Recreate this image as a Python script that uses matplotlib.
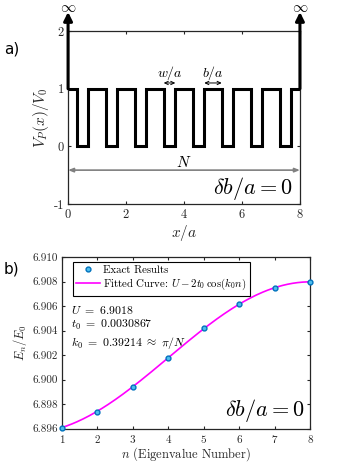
import numpy as np
import matplotlib
matplotlib.use("Agg")
import matplotlib.pyplot as plt

plt.rcParams["font.family"] = "serif"
plt.rcParams["font.serif"] = ["cmr10"]
plt.rcParams["mathtext.fontset"] = "cm"
plt.rcParams["axes.formatter.use_mathtext"] = True
plt.rcParams["axes.unicode_minus"] = False

# panel a: barrier/well edges of the potential V_P(x)/V_0
n_cells = 8
well_start = [0.3, 1.3, 2.3, 3.3, 4.3, 5.3, 6.3, 7.3]
well_end = [0.7, 1.7, 2.7, 3.7, 4.7, 5.7, 6.7, 7.7]
barrier_level = 1.0
well_level = 0.0

# panel b: eigenvalues and fit parameters
n_vals = [1, 2, 3, 4, 5, 6, 7, 8]
energies = [6.8961, 6.8974, 6.8994, 6.9018, 6.9042, 6.9062, 6.9075, 6.9080]
U = 6.9018
t0 = 0.0030867
k0 = 0.39214

fig = plt.figure(figsize=(3.64, 4.63), dpi=100)
gray = "0.15"

# ---------- panel a ----------
ax1 = fig.add_axes([0.187, 0.559, 0.637, 0.374])
xs = [0.0]
ys = [barrier_level]
for s, e in zip(well_start, well_end):
    xs += [s, s, e, e]
    ys += [barrier_level, well_level, well_level, barrier_level]
xs.append(n_cells)
ys.append(barrier_level)
ax1.plot(xs, ys, color="k", lw=2.2, solid_joinstyle="miter")

for xw in (0, n_cells):
    ax1.annotate("", xy=(xw, 2.33), xytext=(xw, barrier_level),
                 arrowprops=dict(arrowstyle="-|>,head_width=0.25,head_length=0.5",
                                 color="k", lw=2.2, shrinkA=0, shrinkB=0),
                 annotation_clip=False)
    ax1.text(xw, 2.4, r"$\infty$", ha="center", va="center", fontsize=11,
             clip_on=False)

arrow_small = dict(arrowstyle="<->,head_width=0.12,head_length=0.25",
                   color="k", lw=0.7, shrinkA=0, shrinkB=0)
ax1.annotate("", xy=(well_start[3], 1.1), xytext=(well_end[3], 1.1),
             arrowprops=arrow_small)
ax1.text(3.5, 1.28, r"$w/a$", ha="center", va="center", fontsize=10)
ax1.annotate("", xy=(well_end[4], 1.1), xytext=(well_start[5], 1.1),
             arrowprops=arrow_small)
ax1.text(5.0, 1.28, r"$b/a$", ha="center", va="center", fontsize=10)

ax1.annotate("", xy=(0, -0.41), xytext=(n_cells, -0.41),
             arrowprops=dict(arrowstyle="<|-|>,head_width=0.12,head_length=0.3",
                             color="0.5", lw=1.2, shrinkA=0, shrinkB=0))
ax1.text(4, -0.27, r"$N$", ha="center", va="center", fontsize=11)
ax1.text(7.75, -0.72, r"$\delta b/a = 0$", ha="right", va="center", fontsize=16)

ax1.set_xlim(0, 8)
ax1.set_ylim(-1, 2)
ax1.set_xticks([0, 2, 4, 6, 8])
ax1.set_yticks([-1, 0, 1, 2])
ax1.set_yticklabels(["-1", "0", "1", "2"])
ax1.set_xlabel(r"$x/a$", fontsize=11, color=gray, labelpad=1)
ax1.set_ylabel(r"$V_P(x)/V_0$", fontsize=11, color=gray, labelpad=2)

# ---------- panel b ----------
ax2 = fig.add_axes([0.170, 0.074, 0.682, 0.371])
n_fine = np.linspace(1, 8, 200)
fit = U - 2 * t0 * np.cos(k0 * n_fine)
ax2.plot(n_fine, fit, color="#FF00FF", lw=1.2,
         label=r"Fitted Curve: $U - 2t_0\,\cos(k_0 n)$")
ax2.plot(n_vals, energies, "o", ms=3.5, mec="#0072BD", mfc="#4DBEEE", mew=1.0,
         label="Exact Results", clip_on=False, zorder=3)
handles, labels = ax2.get_legend_handles_labels()
leg = ax2.legend(handles[::-1], labels[::-1], loc="upper left", fontsize=7.8,
                 fancybox=False, framealpha=1, edgecolor="k",
                 bbox_to_anchor=(0.045, 0.97), borderpad=0.3, labelspacing=0.2,
                 handlelength=2.2, handletextpad=0.3, borderaxespad=0)
leg.get_frame().set_linewidth(0.8)

fit_text = "\n".join([
    r"$U\ =\ 6.9018$",
    r"$t_0\ =\ 0.0030867$",
    r"$k_0\ =\ 0.39214\ \approx\ \pi/N$",
])
ax2.text(1.25, 6.90425, fit_text, fontsize=8.5, va="center", linespacing=1.25)
ax2.text(7.85, 6.8975, r"$\delta b/a = 0$", ha="right", va="center", fontsize=16)

ax2.set_xlim(1, 8)
ax2.set_ylim(6.896, 6.910)
ax2.set_xticks(range(1, 9))
ax2.set_yticks(np.arange(6.896, 6.9101, 0.002))
ax2.set_yticklabels(["%.3f" % v for v in np.arange(6.896, 6.9101, 0.002)])
ax2.set_xlabel(r"$n$ (Eigenvalue Number)", fontsize=9, color=gray, labelpad=0)
ax2.set_ylabel(r"$E_n/E_0$", fontsize=9, color=gray, labelpad=2)

for ax in (ax1, ax2):
    ax.tick_params(direction="in", top=True, right=True, length=2.5,
                   labelsize=9 if ax is ax1 else 8, colors=gray, pad=3)
    for sp in ax.spines.values():
        sp.set_color(gray)
        sp.set_linewidth(0.9)

fig.text(0.01, 0.895, "a)", fontsize=11, family="DejaVu Sans", va="center")
fig.text(0.01, 0.42, "b)", fontsize=11, family="DejaVu Sans", va="center")

fig.savefig("out.png", dpi=100)
